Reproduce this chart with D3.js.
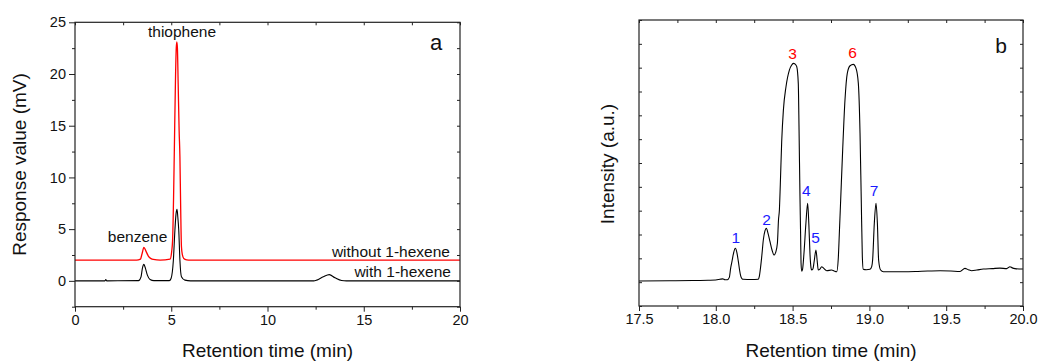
<!DOCTYPE html>
<html><head><meta charset="utf-8">
<script src="https://cdn.jsdelivr.net/npm/d3@7"></script>
<style>
html,body{margin:0;padding:0;background:#fff;}
svg{display:block;font-family:"Liberation Sans",Arial,sans-serif;}
</style></head>
<body>
<svg id="c" width="1042" height="362"></svg>
<script>
// ---------- Panel a data ----------
const aXTicks = [0, 5, 10, 15, 20];
const aYTicks = [0, 5, 10, 15, 20, 25];
const redTime = [0, 3.2, 3.40, 3.48, 3.58, 3.68, 3.81, 3.95, 4.07, 4.42, 4.94, 5.02, 5.07, 5.12, 5.16, 5.22, 5.26, 5.29, 5.32, 5.36, 5.41, 5.45, 5.49, 5.53, 5.58, 5.65, 5.80, 6.0, 20];
const redVal  = [2.0, 2.0, 2.10, 2.6, 3.23, 2.9, 2.39, 2.15, 2.07, 2.0, 2.1, 2.8, 3.94, 8.0, 12.6, 19.5, 22.5, 23.1, 22.5, 19.0, 14.5, 12.0, 7.0, 3.3, 2.5, 2.16, 2.03, 2.0, 2.0];
const blackTime = [0, 1.55, 1.6, 1.65, 3.30, 3.43, 3.50, 3.58, 3.66, 3.76, 3.90, 4.10, 4.90, 4.99, 5.11, 5.19, 5.25, 5.30, 5.34, 5.39, 5.45, 5.53, 5.71, 6.0, 12.4, 12.56, 12.90, 13.21, 13.51, 13.85, 14.1, 20];
const blackVal  = [0, 0, 0.12, 0, 0.02, 0.39, 1.2, 1.59, 1.2, 0.55, 0.13, 0.02, 0.02, 0.23, 2.0, 4.9, 6.5, 6.93, 6.2, 4.9, 2.0, 0.4, 0.07, 0, 0, 0.07, 0.39, 0.6, 0.29, 0.03, 0, 0];
const aNotes = ["thiophene", "benzene", "without 1-hexene", "with 1-hexene"];
const aNoteX = [5.56, 3.25, 19.48, 19.53];
const aNoteY = [23.57, 3.77, 2.32, 0.39];

// ---------- Panel b data ----------
const bXTicks = [17.5, 18.0, 18.5, 19.0, 19.5, 20.0];
const bTime = [17.50, 17.70, 17.85, 17.95, 18.00, 18.027, 18.045, 18.06, 18.075, 18.088, 18.097, 18.105, 18.115, 18.127, 18.137, 18.147, 18.155, 18.162, 18.170, 18.179, 18.23, 18.277, 18.283, 18.292, 18.299, 18.310, 18.320, 18.329, 18.340, 18.353, 18.366, 18.379, 18.390, 18.401, 18.408, 18.414, 18.420, 18.429, 18.440, 18.457, 18.479, 18.493, 18.505, 18.517, 18.527, 18.537, 18.542, 18.548, 18.552, 18.555, 18.559, 18.565, 18.574, 18.587, 18.598, 18.606, 18.613, 18.620, 18.624, 18.632, 18.641, 18.652, 18.660, 18.667, 18.678, 18.689, 18.700, 18.722, 18.754, 18.770, 18.787, 18.798, 18.804, 18.813, 18.826, 18.841, 18.856, 18.874, 18.895, 18.913, 18.928, 18.939, 18.947, 18.954, 18.960, 18.980, 19.004, 19.015, 19.021, 19.032, 19.043, 19.052, 19.060, 19.073, 19.091, 19.15, 19.221, 19.30, 19.38, 19.460, 19.53, 19.590, 19.622, 19.645, 19.666, 19.700, 19.742, 19.800, 19.850, 19.894, 19.915, 19.930, 19.948, 20.0];
const bVal  = [1.05, 1.06, 1.07, 1.08, 1.09, 1.12, 1.14, 1.10, 1.10, 1.20, 1.60, 1.86, 2.20, 2.42, 2.25, 1.86, 1.50, 1.26, 1.15, 1.12, 1.11, 1.12, 1.23, 1.65, 2.07, 2.80, 3.15, 3.26, 3.05, 2.70, 2.35, 2.14, 2.25, 2.63, 3.60, 4.03, 5.10, 6.90, 8.22, 9.20, 9.90, 10.10, 10.18, 10.15, 10.04, 9.34, 7.39, 4.59, 3.05, 1.80, 1.46, 1.55, 2.21, 3.50, 4.31, 3.40, 2.21, 1.60, 1.51, 1.55, 1.90, 2.35, 1.90, 1.51, 1.55, 1.65, 1.60, 1.48, 1.51, 1.47, 1.44, 2.07, 3.00, 4.45, 6.55, 8.64, 9.76, 10.08, 10.14, 9.97, 9.34, 7.25, 4.45, 2.07, 1.54, 1.52, 1.54, 1.65, 1.93, 3.47, 4.31, 3.47, 1.93, 1.51, 1.44, 1.44, 1.44, 1.45, 1.47, 1.48, 1.47, 1.45, 1.58, 1.52, 1.48, 1.51, 1.55, 1.57, 1.59, 1.57, 1.65, 1.60, 1.57, 1.55];
const peakNames = ["1", "2", "3", "4", "5", "6", "7"];
const peakTime  = [18.13, 18.33, 18.50, 18.59, 18.65, 18.89, 19.03];
const peakLabelY = [2.66, 3.40, 10.37, 4.62, 2.66, 10.39, 4.62];
const mainPeaks = ["3", "6"];

const svg = d3.select("#c");
const axisCol = "#222";

function frame(g, x, y, xTicks, xMinor, yTicks, yMinor, yOut) {
  const [x0, x1] = x.range(), [y0, y1] = y.range();
  const fmt = xTicks.some(v => v % 1 !== 0) ? d3.format(".1f") : d3.format("d");
  g.append("g").attr("transform", `translate(0,${y0})`)
    .call(d3.axisBottom(x).tickValues(xTicks).tickSize(5).tickPadding(3).tickFormat(fmt));
  g.append("g").attr("transform", `translate(0,${y0})`)
    .call(d3.axisBottom(x).tickValues(xMinor).tickSize(3).tickFormat(""));
  g.append("g").attr("transform", `translate(0,${y1})`)
    .call(d3.axisBottom(x).tickValues(xTicks.concat(xMinor)).tickSize(3).tickFormat(""));
  if (yOut) {
    g.append("g").attr("transform", `translate(${x0},0)`)
      .call(d3.axisLeft(y).tickValues(yTicks).tickSize(6).tickPadding(3).tickFormat(d3.format("d")));
    g.append("g").attr("transform", `translate(${x0},0)`)
      .call(d3.axisLeft(y).tickValues(yMinor).tickSize(3).tickFormat(""));
  } else {
    g.append("g").attr("transform", `translate(${x0},0)`)
      .call(d3.axisRight(y).tickValues(yTicks).tickSize(3).tickFormat(""));
  }
  g.append("g").attr("transform", `translate(${x1},0)`)
    .call(d3.axisLeft(y).tickValues(yTicks.concat(yMinor)).tickSize(3).tickFormat(""));
  g.selectAll(".domain").remove();
  g.selectAll(".tick line").attr("stroke", axisCol).attr("stroke-width", 1);
  g.selectAll(".tick text").attr("fill", "#111").style("font-size", "14.5px")
    .style("font-family", '"Liberation Sans",Arial,sans-serif');
  g.append("rect").attr("x", x0).attr("y", y1).attr("width", x1 - x0).attr("height", y0 - y1)
    .attr("fill", "none").attr("stroke", axisCol).attr("stroke-width", 1.2);
}

// ---------- Panel a ----------
const ax = d3.scaleLinear().domain([0, 20]).range([75, 460]);
const ay = d3.scaleLinear().domain([-2.5, 25]).range([306.7, 22.3]);
const ga = svg.append("g");
const lineA = d3.line().x(d => ax(d[0])).y(d => ay(d[1])).curve(d3.curveMonotoneX);
ga.append("path").datum(blackTime.map((t, i) => [t, blackVal[i]]))
  .attr("d", lineA).attr("fill", "none").attr("stroke", "#000").attr("stroke-width", 1.1);
ga.append("path").datum(redTime.map((t, i) => [t, redVal[i]]))
  .attr("d", lineA).attr("fill", "none").attr("stroke", "#ff0000").attr("stroke-width", 1.3);
frame(ga, ax, ay, aXTicks, [2.5, 7.5, 12.5, 17.5], aYTicks, [-2.5, 2.5, 7.5, 12.5, 17.5, 22.5], true);
const anchors = ["middle", "middle", "end", "end"];
ga.selectAll("text.note").data(aNotes).join("text").attr("class", "note")
  .attr("x", (d, i) => ax(aNoteX[i])).attr("y", (d, i) => ay(aNoteY[i]))
  .attr("text-anchor", (d, i) => anchors[i]).style("font-size", "15.5px").attr("fill", "#111").text(d => d);
ga.append("text").attr("x", 436).attr("y", 50).attr("text-anchor", "middle")
  .style("font-size", "22px").attr("fill", "#111").text("a");
ga.append("text").attr("x", 267.5).attr("y", 357).attr("text-anchor", "middle")
  .style("font-size", "19px").attr("fill", "#111").text("Retention time (min)");
ga.append("text").attr("transform", "translate(26,164.5) rotate(-90)").attr("text-anchor", "middle")
  .style("font-size", "19px").attr("fill", "#111").text("Response value (mV)");

// ---------- Panel b ----------
const bx = d3.scaleLinear().domain([17.5, 20]).range([639, 1023]);
const by = d3.scaleLinear().domain([0, 12]).range([306, 20]);
const gb = svg.append("g");
const lineB = d3.line().x(d => bx(d[0])).y(d => by(d[1])).curve(d3.curveMonotoneX);
gb.append("path").datum(bTime.map((t, i) => [t, bVal[i]]))
  .attr("d", lineB).attr("fill", "none").attr("stroke", "#000").attr("stroke-width", 1.1);
frame(gb, bx, by, bXTicks, [17.75, 18.25, 18.75, 19.25, 19.75], d3.range(0, 13), [], false);
gb.selectAll("text.pk").data(peakNames).join("text").attr("class", "pk")
  .attr("x", (d, i) => bx(peakTime[i])).attr("y", (d, i) => by(peakLabelY[i]))
  .attr("text-anchor", "middle").style("font-size", "15.5px")
  .attr("fill", d => mainPeaks.includes(d) ? "#ff0000" : "#1a1aff").text(d => d);
gb.append("text").attr("x", 1001).attr("y", 53).attr("text-anchor", "middle")
  .style("font-size", "21px").attr("fill", "#111").text("b");
gb.append("text").attr("x", 831).attr("y", 357).attr("text-anchor", "middle")
  .style("font-size", "19px").attr("fill", "#111").text("Retention time (min)");
gb.append("text").attr("transform", "translate(614,164) rotate(-90)").attr("text-anchor", "middle")
  .style("font-size", "19px").attr("fill", "#111").text("Intensity (a.u.)");
</script>
</body></html>
